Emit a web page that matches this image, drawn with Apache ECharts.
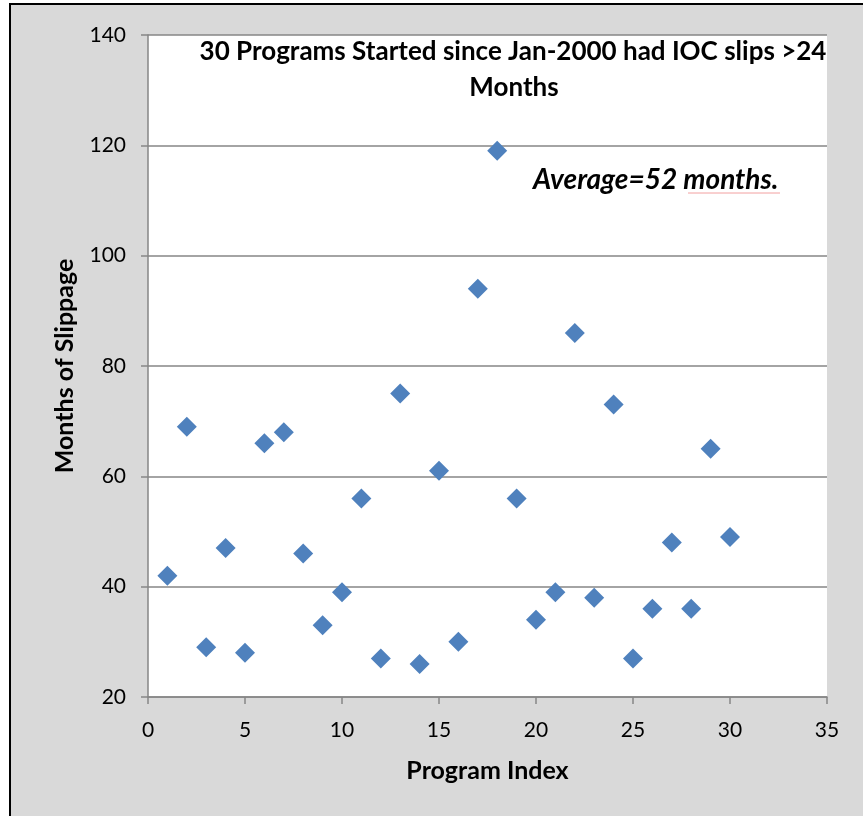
<!DOCTYPE html>
<html>
<head>
<meta charset="utf-8">
<script src="https://cdn.jsdelivr.net/npm/echarts@6/dist/echarts.min.js"></script>
<style>
html,body{margin:0;padding:0;background:#fff;}
#chart{width:863px;height:816px;}
</style>
</head>
<body>
<div id="chart"></div>
<script>
var programIndex = [1,2,3,4,5,6,7,8,9,10,11,12,13,14,15,16,17,18,19,20,21,22,23,24,25,26,27,28,29,30];
var slippage = [42,69,29,47,28,66,68,46,33,39,56,27,75,26,61,30,94,119,56,34,39,86,38,73,27,36,48,36,65,49];
var titleLines = ['30 Programs Started since Jan-2000 had IOC slips >24', 'Months'];
var avgNote = 'Average=52 months.';
var xName = 'Program Index';
var yName = 'Months of Slippage';

var pts = programIndex.map(function(x,i){ return [x, slippage[i]]; });
var FONT = 'Lato';
var chart = echarts.init(document.getElementById('chart'), null, {renderer:'canvas'});
chart.setOption({
  backgroundColor: '#fff',
  animation: false,
  graphic: [
    {type:'rect', z:-10, shape:{x:10, y:4, width:900, height:900},
     style:{fill:'#d9d9d9', stroke:'#000', lineWidth:2}},
    {type:'text', z:100, x:513, y:52,
     style:{text: titleLines[0], font:'bold 26px ' + FONT, fill:'#000',
            textAlign:'center', textVerticalAlign:'middle'}},
    {type:'text', z:100, x:514, y:88,
     style:{text: titleLines[1], font:'bold 26px ' + FONT, fill:'#000',
            textAlign:'center', textVerticalAlign:'middle'}},
    {type:'text', z:100, x:533, y:180,
     style:{text: avgNote, font:'italic bold 28px ' + FONT, fill:'#000',
            textAlign:'left', textVerticalAlign:'middle'}},
    {type:'polyline', z:100, shape:{points:[[688,193],[780,193]]},
     style:{stroke:'#f2a0a0', lineWidth:1}}
  ],
  grid: {left:148, right:36, top:35, bottom:119, show:true, backgroundColor:'#fff', borderWidth:0},
  xAxis: {
    type:'value', min:0, max:35, interval:5,
    name: xName, nameLocation:'middle', nameGap:61,
    nameTextStyle:{fontFamily:FONT, fontWeight:'bold', fontSize:25, color:'#000'},
    axisLine:{show:true, onZero:false, lineStyle:{color:'#868686', width:1.5}},
    axisTick:{show:true, length:7, lineStyle:{color:'#868686', width:1.5}},
    axisLabel:{fontFamily:FONT, fontSize:21, color:'#000', margin:23},
    splitLine:{show:false}
  },
  yAxis: {
    type:'value', min:20, max:140, interval:20,
    name: yName, nameLocation:'middle', nameGap:71,
    nameTextStyle:{fontFamily:FONT, fontWeight:'bold', fontSize:25, color:'#000'},
    axisLine:{show:true, lineStyle:{color:'#868686', width:1.5}},
    axisTick:{show:true, length:7, lineStyle:{color:'#868686', width:1.5}},
    axisLabel:{fontFamily:FONT, fontSize:21, color:'#000', margin:22},
    splitLine:{show:true, lineStyle:{color:'#868686', width:1.5}}
  },
  series: [{
    type:'scatter', data: pts, symbol:'diamond', symbolSize:[20,20],
    itemStyle:{color:'#4f81bd', opacity:1}
  }]
});
</script>
</body>
</html>
